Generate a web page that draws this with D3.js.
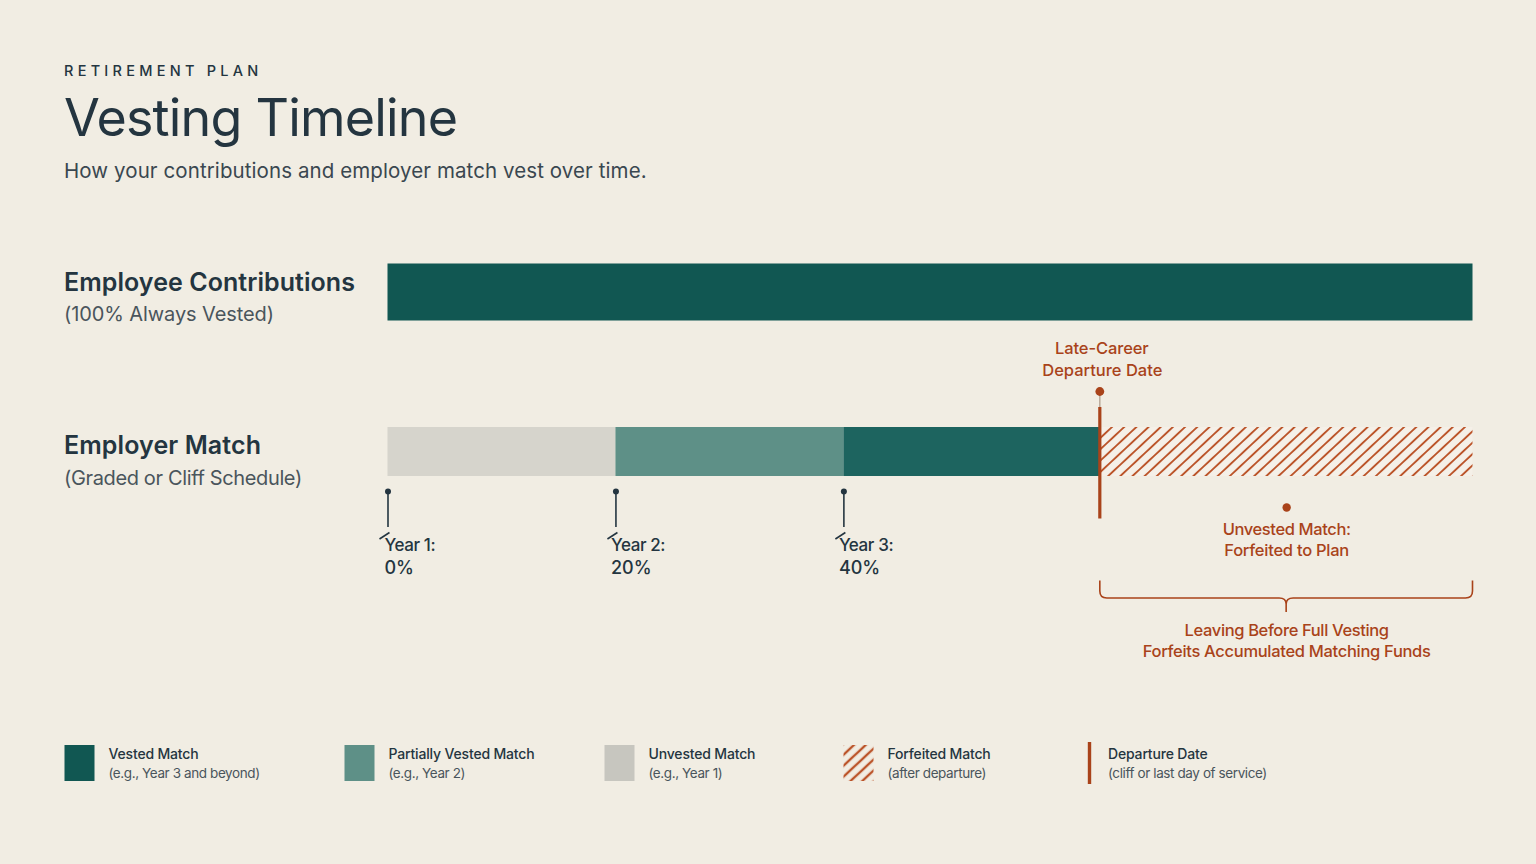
<!DOCTYPE html>
<html>
<head>
<meta charset="utf-8">
<script src="https://cdn.jsdelivr.net/npm/d3@7"></script>
<style>
  html, body { margin: 0; padding: 0; background: #f1ede3; overflow: hidden; }
  text { font-family: Inter, "Noto Sans", sans-serif; }
</style>
</head>
<body>
<script>
// years since hire
var yearStarts = [0, 1, 2];
var yearEnd = 4.76;
var departure = 3.125;
var yearLabels = ["Year 1:", "Year 2:", "Year 3:"];
var yearPercents = ["0%", "20%", "40%"];
var matchStart = [0, 1, 2];
var matchStop = [1, 2, 3.125];
var matchFill = ["#d6d4cc", "#5e9087", "#1d645f"];
var legendNames = ["Vested Match", "Partially Vested Match", "Unvested Match", "Forfeited Match", "Departure Date"];
var legendNotes = ["(e.g., Year 3 and beyond)", "(e.g., Year 2)", "(e.g., Year 1)", "(after departure)", "(cliff or last day of service)"];
var legendX = [64.5, 344.5, 604.5, 843.5, 1088];
var legendFill = ["#115752", "#5e9087", "#c7c6bf", "url(#hatchLegend)", "none"];

var w = 1536, h = 864;
var ink = "#243540", rust = "#a9431a", teal = "#115752";

var svg = d3.select("body").append("svg")
  .attr("width", w)
  .attr("height", h)
  .style("display", "block");

var defs = svg.append("defs");
function hatch(id, size, sw, angle) {
  var p = defs.append("pattern")
    .attr("id", id)
    .attr("patternUnits", "userSpaceOnUse")
    .attr("width", size)
    .attr("height", size)
    .attr("patternTransform", "rotate(" + angle + ")");
  p.append("rect")
    .attr("x", -sw / 2).attr("y", 0)
    .attr("width", sw).attr("height", size)
    .attr("fill", "#bb5429");
  p.append("rect")
    .attr("x", size - sw / 2).attr("y", 0)
    .attr("width", sw).attr("height", size)
    .attr("fill", "#bb5429");
}
hatch("hatch", 8.3, 1.9, 47);
hatch("hatchLegend", 8, 2.4, 47);

svg.append("rect").attr("width", w).attr("height", h).attr("fill", "#f1ede3");

var xScale = d3.scaleLinear()
  .domain([0, yearEnd])
  .range([387.5, 1472.5]);

function label(x, y, str, size, color, weight, anchor) {
  return svg.append("text")
    .attr("x", x)
    .attr("y", y)
    .attr("font-size", size)
    .attr("fill", color)
    .attr("font-weight", weight || 400)
    .attr("text-anchor", anchor || "start")
    .text(str);
}

// header
label(64, 76, "RETIREMENT PLAN", 14.5, ink, 500).attr("letter-spacing", 4.25);
label(64, 136, "Vesting Timeline", 52, ink, 400).attr("letter-spacing", -0.8);
label(64, 178, "How your contributions and employer match vest over time.", 20.5, "#3a4750", 400).attr("letter-spacing", 0.09);

// row labels
label(64, 291, "Employee Contributions", 25, ink, 600).attr("letter-spacing", 0.06);
label(64, 321, "(100% Always Vested)", 20, "#4a555c", 400).attr("letter-spacing", -0.1);
label(64, 454, "Employer Match", 25, ink, 600).attr("letter-spacing", 0.1);
label(64, 485, "(Graded or Cliff Schedule)", 20, "#4a555c", 400).attr("letter-spacing", -0.36);

// employee bar
svg.append("rect")
  .attr("x", xScale(0))
  .attr("y", 263.5)
  .attr("width", xScale(yearEnd) - xScale(0))
  .attr("height", 57)
  .attr("fill", teal);

// employer bar
svg.selectAll("rect.match")
  .data(matchStart)
  .enter()
  .append("rect")
  .attr("class", "match")
  .attr("x", function(d) { return xScale(d); })
  .attr("y", 427)
  .attr("width", function(d, i) { return xScale(matchStop[i]) - xScale(d); })
  .attr("height", 49)
  .attr("fill", function(d, i) { return matchFill[i]; });

svg.append("rect")
  .attr("x", xScale(departure))
  .attr("y", 427)
  .attr("width", xScale(yearEnd) - xScale(departure))
  .attr("height", 49)
  .attr("fill", "#f5f0e8");
svg.append("rect")
  .attr("x", xScale(departure))
  .attr("y", 427)
  .attr("width", xScale(yearEnd) - xScale(departure))
  .attr("height", 49)
  .attr("fill", "url(#hatch)");

// year markers
var textOffset = [-3, -4.5, -4.5];
var years = svg.selectAll("g.year")
  .data(yearStarts)
  .enter()
  .append("g")
  .attr("class", "year")
  .attr("transform", function(d) { return "translate(" + xScale(d) + ",0)"; });
years.append("circle").attr("cx", 0.5).attr("cy", 491.5).attr("r", 3).attr("fill", ink);
years.append("line").attr("x1", 0.5).attr("x2", 0.5).attr("y1", 492).attr("y2", 527)
  .attr("stroke", ink).attr("stroke-width", 1.6);
years.append("line").attr("x1", -8).attr("x2", 2).attr("y1", 539).attr("y2", 532.5)
  .attr("stroke", ink).attr("stroke-width", 1.6);
years.append("text").attr("x", function(d, i) { return textOffset[i]; }).attr("y", 551)
  .attr("font-size", 17).attr("font-weight", 500).attr("fill", ink).attr("letter-spacing", -0.4)
  .text(function(d, i) { return yearLabels[i]; });
years.append("text").attr("x", function(d, i) { return textOffset[i]; }).attr("y", 574)
  .attr("font-size", 18).attr("font-weight", 500).attr("fill", ink)
  .text(function(d, i) { return yearPercents[i]; });

// departure marker
var dx = xScale(departure);
svg.append("line").attr("x1", dx).attr("x2", dx).attr("y1", 392).attr("y2", 408)
  .attr("stroke", "#b5a595").attr("stroke-width", 1.4);
svg.append("line").attr("x1", dx).attr("x2", dx).attr("y1", 407).attr("y2", 518.5)
  .attr("stroke", rust).attr("stroke-width", 3.2);
svg.append("circle").attr("cx", dx).attr("cy", 391.5).attr("r", 4.4).attr("fill", rust);
label(dx + 2, 354, "Late-Career", 16.5, rust, 500, "middle").attr("letter-spacing", -0.1);
label(dx + 2.5, 375.5, "Departure Date", 16.5, rust, 500, "middle").attr("letter-spacing", 0);

// forfeited note
var fx = xScale((departure + yearEnd) / 2);
svg.append("circle").attr("cx", fx + 0.5).attr("cy", 507.5).attr("r", 4.2).attr("fill", rust);
label(fx + 0.5, 535, "Unvested Match:", 16.5, rust, 500, "middle").attr("letter-spacing", -0.38);
label(fx + 0.5, 556, "Forfeited to Plan", 16.5, rust, 500, "middle").attr("letter-spacing", -0.25);

// brace
var bx0 = dx, bx1 = xScale(yearEnd);
var bracePath = d3.path();
bracePath.moveTo(bx0, 580.5);
bracePath.lineTo(bx0, 591);
bracePath.quadraticCurveTo(bx0, 598, bx0 + 7, 598);
bracePath.lineTo(fx - 7, 598);
bracePath.quadraticCurveTo(fx, 598, fx, 604);
bracePath.lineTo(fx, 612);
bracePath.moveTo(fx, 604);
bracePath.quadraticCurveTo(fx, 598, fx + 7, 598);
bracePath.lineTo(bx1 - 7, 598);
bracePath.quadraticCurveTo(bx1, 598, bx1, 591);
bracePath.lineTo(bx1, 580.5);
svg.append("path").attr("d", bracePath.toString())
  .attr("fill", "none").attr("stroke", rust).attr("stroke-width", 1.6);
label(fx + 0.5, 636, "Leaving Before Full Vesting", 16.5, rust, 500, "middle").attr("letter-spacing", -0.37);
label(fx + 0.5, 657, "Forfeits Accumulated Matching Funds", 16.5, rust, 500, "middle").attr("letter-spacing", -0.31);

// legend
var legend = svg.selectAll("g.legend")
  .data(legendNames)
  .enter()
  .append("g")
  .attr("class", "legend")
  .attr("transform", function(d, i) { return "translate(" + legendX[i] + ",0)"; });
legend.filter(function(d, i) { return i < 4; })
  .append("rect")
  .attr("y", 745)
  .attr("width", 30)
  .attr("height", 36)
  .attr("fill", function(d, i) { return legendFill[i]; });
legend.filter(function(d, i) { return i == 4; })
  .append("line")
  .attr("x1", 1.5).attr("x2", 1.5).attr("y1", 742).attr("y2", 784)
  .attr("stroke", rust).attr("stroke-width", 3.4);
legend.append("text")
  .attr("x", function(d, i) { return i == 4 ? 20 : 44; })
  .attr("y", 758.5)
  .attr("font-size", 14).attr("font-weight", 500).attr("fill", ink).attr("letter-spacing", -0.17)
  .text(function(d) { return d; });
legend.append("text")
  .attr("x", function(d, i) { return i == 4 ? 20 : 44; })
  .attr("y", 778)
  .attr("font-size", 13.5).attr("fill", "#4a555c").attr("letter-spacing", -0.4)
  .text(function(d, i) { return legendNotes[i]; });
</script>
</body>
</html>
